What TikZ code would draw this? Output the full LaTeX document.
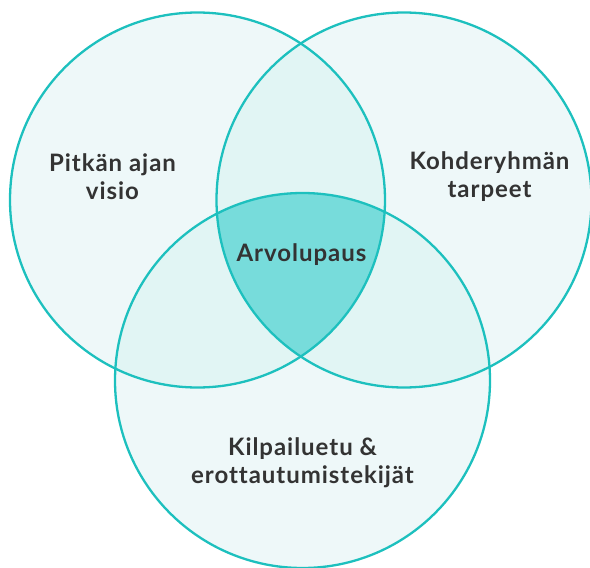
\documentclass[tikz,border=0pt]{standalone}
\usepackage{fontspec}
\setmainfont{Lato}[LetterSpace=4, Ligatures=NoCommon]
\definecolor{ring}{HTML}{1DC0BE}
\definecolor{onefill}{HTML}{EEF8F9}
\definecolor{twofill}{HTML}{E1F5F4}
\definecolor{threefill}{HTML}{77DCDB}
\definecolor{ink}{HTML}{333333}
\tikzset{
  ringline/.style={draw=ring, line width=2.3pt},
  label/.style={text=ink, align=center, font=\bfseries\fontsize{24}{28}\selectfont, inner sep=0pt}
}
\begin{document}
\begin{tikzpicture}[x=1pt,y=-1pt]
\useasboundingbox (0,0) rectangle (590,568);
\def\R{187.5}
\coordinate (cl) at (197.5,200);
\coordinate (cr) at (404,200);
\coordinate (cb) at (302.5,380.5);

% single-circle areas
\fill[onefill] (cl) circle[radius=\R];
\fill[onefill] (cr) circle[radius=\R];
\fill[onefill] (cb) circle[radius=\R];

% pairwise overlaps
\begin{scope}
  \clip (cl) circle[radius=\R];
  \fill[twofill] (cr) circle[radius=\R];
  \fill[twofill] (cb) circle[radius=\R];
\end{scope}
\begin{scope}
  \clip (cr) circle[radius=\R];
  \fill[twofill] (cb) circle[radius=\R];
\end{scope}

% common core
\begin{scope}
  \clip (cl) circle[radius=\R];
  \clip (cr) circle[radius=\R];
  \fill[threefill] (cb) circle[radius=\R];
\end{scope}

% outlines
\draw[ringline] (cl) circle[radius=\R];
\draw[ringline] (cr) circle[radius=\R];
\draw[ringline] (cb) circle[radius=\R];

% labels
\node[label] (vision) at (112.5,177) {Pitkän ajan\\visio};
\node[label] (needs) at (489.5,177) {Kohderyhmän\\tarpeet};
\node[label] (value) at (301.5,255) {Arvolupaus};
\node[label] (compete) at (302.5,463) {Kilpailuetu \&\\erottautumistekijät};
\end{tikzpicture}
\end{document}
